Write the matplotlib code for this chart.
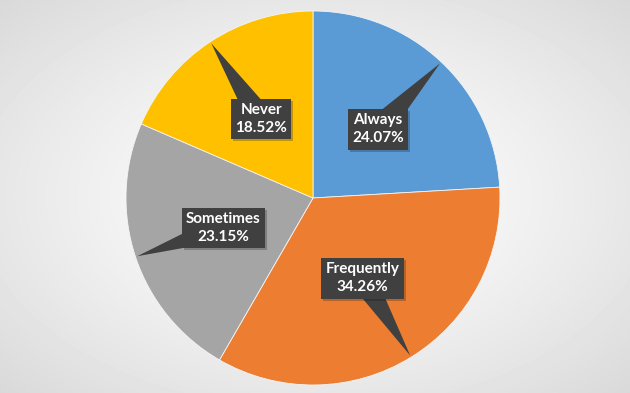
import numpy as np
import matplotlib
matplotlib.use("Agg")
import matplotlib.pyplot as plt
from matplotlib.patches import Polygon
import matplotlib.patheffects as pe

categories = ["Always", "Frequently", "Sometimes", "Never"]
counts = [26, 37, 25, 20]
percent_labels = ["24.07%", "34.26%", "23.15%", "18.52%"]
colors = ["#5B9BD5", "#ED7D31", "#A5A5A5", "#FFC000"]

W, H = 630, 393
fig = plt.figure(figsize=(W / 100, H / 100), dpi=100)

# radial gradient background
bg = fig.add_axes([0, 0, 1, 1])
yy, xx = np.mgrid[0:H, 0:W]
rx = (xx - W / 2) / (W / 2)
ry = (yy - H / 2) / (H / 2)
r2 = np.clip((rx ** 2 + ry ** 2) / 2.0, 0, 1)
val = 1.0 - 0.15 * np.sqrt(r2) ** 1.3
bg.imshow(val, cmap="gray", vmin=0, vmax=1, extent=[0, W, 0, H], aspect="auto", origin="upper")
bg.set_axis_off()

ax = fig.add_axes([0, 0, 1, 1])
ax.set_xlim(0, W)
ax.set_ylim(0, H)
ax.set_aspect("equal")
ax.set_axis_off()
ax.patch.set_alpha(0)

cx, cy, R = 313, 195, 187
wedges, _ = ax.pie(counts, colors=colors, startangle=90, counterclock=False,
                   center=(cx, cy), radius=R, frame=True,
                   wedgeprops=dict(linewidth=0.6, edgecolor="#f4f4f4"))
ax.set_xlim(0, W)
ax.set_ylim(0, H)
ax.set_axis_off()

box_color = "#404040"
for w, cat, pl in zip(wedges, categories, percent_labels):
    mid = np.deg2rad((w.theta1 + w.theta2) / 2)
    ux, uy = np.cos(mid), np.sin(mid)
    tip = (cx + 0.99 * R * ux, cy + 0.99 * R * uy)
    lx, ly = cx + 0.505 * R * ux, cy + 0.505 * R * uy
    px, py = -uy, ux
    hw = 13
    tri = Polygon([tip, (lx + hw * px, ly + hw * py), (lx - hw * px, ly - hw * py)],
                  closed=True, facecolor=box_color, edgecolor="none", zorder=4)
    ax.add_patch(tri)
    t = ax.text(lx, ly, f"{cat}\n{pl}", ha="center", va="center", color="white",
                fontsize=11, fontweight="bold", family="Lato", linespacing=1.35,
                zorder=5,
                bbox=dict(boxstyle="square,pad=0.28", facecolor=box_color, edgecolor="none"))
    t.get_bbox_patch().set_path_effects([pe.SimplePatchShadow(offset=(1.5, -1.5), alpha=0.25), pe.Normal()])

fig.savefig("out.png", dpi=100)
